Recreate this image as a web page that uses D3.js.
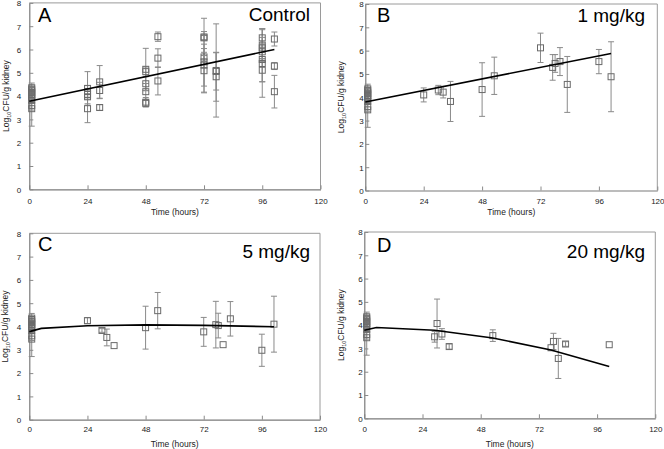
<!DOCTYPE html>
<html><head><meta charset="utf-8">
<script src="https://cdn.jsdelivr.net/npm/d3@7"></script>
<style>body{margin:0;background:#fff}svg{display:block}text{font-family:"Liberation Sans",Arial,sans-serif}</style>
</head><body><svg id="c" width="664" height="449"></svg>
<script>
// ---- data ----
const xTicks = [0, 24, 48, 72, 96, 120];
const yTicks = [0, 1, 2, 3, 4, 5, 6, 7, 8];
const panelLetters = ["A", "B", "C", "D"];
const panelTitles = ["Control", "1 mg/kg", "5 mg/kg", "20 mg/kg"];

// baseline (t ~ 0) observations, shared by all panels
const baseT = [1, 1, 1, 1, 1, 1, 1, 1, 1, 1];
const baseY = [4.36, 4.3, 4.22, 4.15, 4.08, 4.0, 3.92, 3.82, 3.6, 3.46];
const baseErr = [0.2, 0.12, 0.15, 0.1, 0.2, 0.1, 0.15, 0.12, 0.2, 0.75];

const controlT = [24,24,24,24,24, 29,29,29, 48,48,48,48,48,48, 53,53,53, 72,72,72,72,72,72, 77,77,77, 96,96,96,96,96,96,96, 101,101,101];
const controlY = [4.33,4.2,4.07,3.97,3.46, 4.61,4.24,3.51, 5.15,5.05,4.53,4.19,3.74,3.69, 6.55,5.63,4.65, 6.54,6.5,5.68,5.47,5.33,5.09, 5.1,5.06,4.83, 6.5,6.19,6.07,5.9,5.57,5.4,5.11, 6.45,5.29,4.19];
const controlErr = [0.72,0.25,0.2,0.3,0.6, 0.7,0.35,0.12, 0.9,0.2,0.3,0.35,0.2,0.15, 0.2,0.4,0.6, 0.8,0.1,0.2,1.3,0.9,0.95, 2.0,0.8,1.05, 0.4,0.7,0.2,0.3,0.95,1.45,0.5, 0.3,0.15,0.7];

const mg1T = [24, 30, 32, 35, 48, 53, 72, 77, 78, 80, 83, 96, 101];
const mg1Y = [4.1, 4.31, 4.22, 3.82, 4.33, 4.92, 6.12, 5.28, 5.45, 5.53, 4.55, 5.53, 4.88];
const mg1Err = [0.3, 0.2, 0.25, 0.86, 1.15, 0.8, 0.63, 0.55, 0.38, 0.6, 1.2, 0.52, 1.5];

const mg5T = [24, 30, 32, 35, 48, 53, 72, 77, 78, 80, 83, 96, 101];
const mg5Y = [4.25, 3.83, 3.53, 3.18, 3.95, 4.68, 3.77, 4.08, 4.04, 3.22, 4.33, 2.98, 4.1];
const mg5Err = [0.13, 0.08, 0.36, 0, 0.92, 0.78, 0.62, 1.0, 0.53, 0, 0.74, 0.69, 1.2];

const mg20T = [29, 30, 32, 35, 53, 77, 78, 80, 83, 101];
const mg20Y = [3.5, 4.07, 3.62, 3.08, 3.55, 3.03, 3.3, 2.57, 3.19, 3.16];
const mg20Err = [0.23, 1.05, 0.23, 0.11, 0.25, 0, 0.35, 0.86, 0.1, 0];

// model fits
const controlFitT = [0, 101];
const controlFitY = [3.78, 6.0];
const mg1FitT = [0, 101];
const mg1FitY = [3.8, 5.88];
const mg5FitT = [0, 5, 24, 48, 72, 101];
const mg5FitY = [3.78, 3.92, 4.03, 4.07, 4.05, 3.99];
const mg20FitT = [0, 5, 29, 53, 77, 101];
const mg20FitY = [3.78, 3.9, 3.78, 3.45, 2.93, 2.22];

// ---- layout ----
const layouts = [
  {x0: 29.3, x1: 320.5, yT: 2.9, yB: 189.3, tickLblDx: 8, yLblX: 6, xLblY: 204, titleY: 214.5, letterX: 38, letterY: 21.5, titleX: 310, titleBY: 21},
  {x0: 365.3, x1: 657.3, yT: 4, yB: 190.5, tickLblDx: 1.5, yLblX: 341, xLblY: 204, titleY: 215, letterX: 377, letterY: 22, titleX: 645, titleBY: 22},
  {x0: 29.3, x1: 320, yT: 233.3, yB: 419.7, tickLblDx: 8, yLblX: 5, xLblY: 432.5, titleY: 447, letterX: 38, letterY: 251, titleX: 310, titleBY: 258},
  {x0: 364.3, x1: 655.3, yT: 232, yB: 418.3, tickLblDx: 1.5, yLblX: 341, xLblY: 432, titleY: 447, letterX: 377, letterY: 252, titleX: 645, titleBY: 258}
];
const panels = [
  {t: controlT, y: controlY, e: controlErr, ft: controlFitT, fy: controlFitY},
  {t: mg1T, y: mg1Y, e: mg1Err, ft: mg1FitT, fy: mg1FitY},
  {t: mg5T, y: mg5Y, e: mg5Err, ft: mg5FitT, fy: mg5FitY},
  {t: mg20T, y: mg20Y, e: mg20Err, ft: mg20FitT, fy: mg20FitY}
];

const svg = d3.select("#c");
panels.forEach((p, i) => {
  const L = layouts[i];
  const x = d3.scaleLinear().domain([0, 120]).range([L.x0, L.x1]);
  const y = d3.scaleLinear().domain([0, 8]).range([L.yB, L.yT]);
  const g = svg.append("g");

  g.append("line").attr("x1", L.x0).attr("x2", L.x1).attr("y1", L.yT).attr("y2", L.yT).attr("stroke", "#9a9a9a");
  g.append("line").attr("x1", L.x1).attr("x2", L.x1).attr("y1", L.yT).attr("y2", L.yB).attr("stroke", "#9a9a9a");

  const xAxis = d3.axisBottom(x).tickValues(xTicks).tickSizeInner(-4).tickSizeOuter(0).tickPadding(0).tickFormat(d3.format("d"));
  const yAxis = d3.axisLeft(y).tickValues(yTicks).tickSizeInner(-4).tickSizeOuter(0).tickPadding(0).tickFormat(d3.format("d"));

  const gx = g.append("g").attr("transform", `translate(0,${L.yB})`).call(xAxis);
  const gy = g.append("g").attr("transform", `translate(${L.x0},0)`).call(yAxis);
  [gx, gy].forEach(a => {
    a.select(".domain").attr("stroke", "#7a7a7a").attr("stroke-width", 1.2);
    a.selectAll(".tick line").attr("stroke", "#8a8a8a");
    a.selectAll(".tick text").attr("fill", "#222").style("font-size", "8px").style("font-family", "Liberation Sans, Arial, sans-serif");
  });
  gx.selectAll(".tick text").attr("y", L.xLblY - L.yB).attr("dy", 0);
  gy.selectAll(".tick text").attr("x", -L.tickLblDx).attr("dy", "0.35em");

  g.append("text").attr("x", (L.x0 + L.x1) / 2).attr("y", L.titleY).attr("text-anchor", "middle")
    .style("font-size", "8.5px").attr("fill", "#222").text("Time (hours)");
  const yl = g.append("text").attr("transform", `translate(${L.yLblX + 3},${(L.yT + L.yB) / 2}) rotate(-90)`)
    .attr("text-anchor", "middle").style("font-size", "8.5px").attr("fill", "#222");
  yl.append("tspan").text("Log");
  yl.append("tspan").attr("dy", 2).style("font-size", "5.5px").text("10");
  yl.append("tspan").attr("dy", -2).text("CFU/g kidney");

  g.append("text").attr("x", L.letterX).attr("y", L.letterY).style("font-size", "20px").attr("fill", "#000").text(panelLetters[i]);
  g.append("text").attr("x", L.titleX).attr("y", L.titleBY).attr("text-anchor", "end").style("font-size", "19px").attr("fill", "#000").text(panelTitles[i]);

  const obs = baseT.map((t, k) => ({t, v: baseY[k], e: baseErr[k]}))
    .concat(p.t.map((t, k) => ({t, v: p.y[k], e: p.e[k]})));
  const eb = g.append("g").attr("stroke", "#8a8a8a").attr("stroke-width", 1);
  obs.filter(d => d.e > 0).forEach(d => {
    const cx = x(d.t), lo = y(d.v - d.e), hi = y(d.v + d.e);
    eb.append("line").attr("x1", cx).attr("x2", cx).attr("y1", lo).attr("y2", hi);
    eb.append("line").attr("x1", cx - 3).attr("x2", cx + 3).attr("y1", lo).attr("y2", lo);
    eb.append("line").attr("x1", cx - 3).attr("x2", cx + 3).attr("y1", hi).attr("y2", hi);
  });
  g.append("g").selectAll("rect").data(obs).join("rect")
    .attr("x", d => x(d.t) - 3).attr("y", d => y(d.v) - 3).attr("width", 6).attr("height", 6)
    .attr("fill", "none").attr("stroke", "#6a6a6a").attr("stroke-width", 1);

  const fit = p.ft.map((t, k) => [t, p.fy[k]]);
  g.append("path").datum(fit).attr("fill", "none").attr("stroke", "#000").attr("stroke-width", 1.6)
    .attr("d", d3.line().x(d => x(d[0])).y(d => y(d[1])));
});
</script></body></html>
